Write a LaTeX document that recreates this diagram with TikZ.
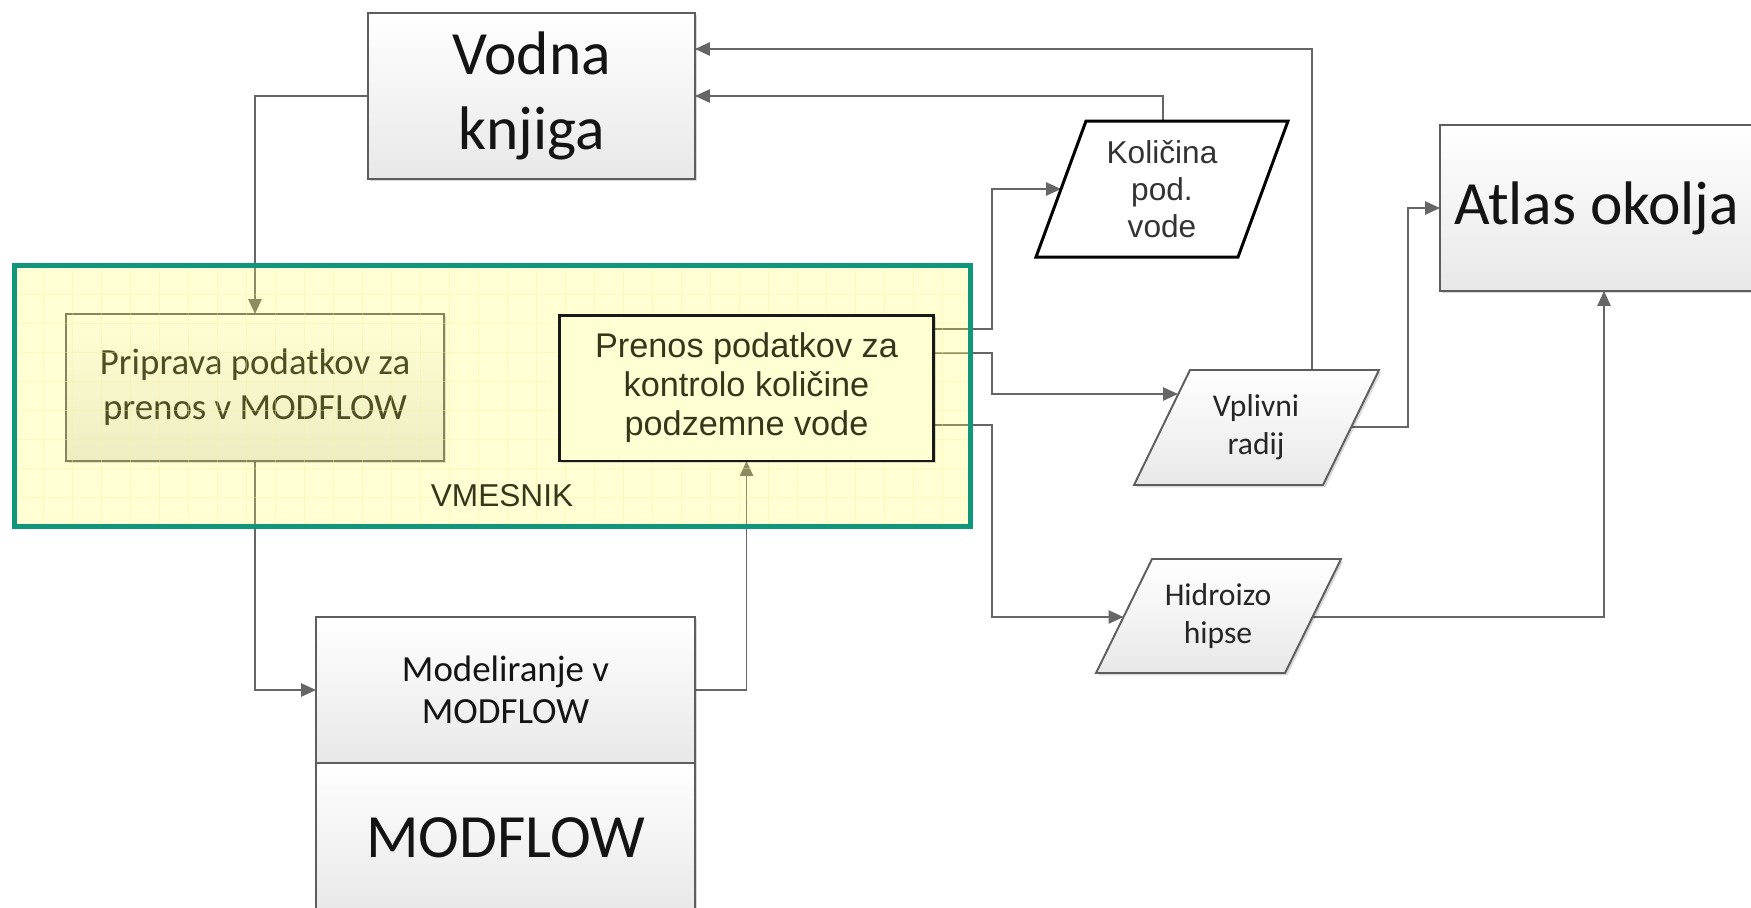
\documentclass[tikz,border=0pt]{standalone}
\usepackage{fontspec}
\setmainfont{Carlito}
\newfontfamily\arialf{Liberation Sans}
\usetikzlibrary{arrows.meta,shadows}
\definecolor{bordergray}{HTML}{5E5E5E}
\definecolor{linegray}{HTML}{666666}
\definecolor{vgreen}{HTML}{10967A}
\definecolor{olivetxt}{HTML}{36361A}
\definecolor{ovl}{HTML}{FFFF50}
\definecolor{gridy}{HTML}{F4F4A0}
\definecolor{prenosfill}{HTML}{FFFFD4}
\pgfdeclarelayer{bglayer}
\pgfdeclarelayer{connlayer}
\pgfdeclarelayer{overlayer}
\pgfdeclarelayer{frontlayer}
\pgfsetlayers{bglayer,connlayer,main,overlayer,frontlayer}
\begin{document}
\begin{tikzpicture}[x=0.02cm,y=-0.02cm,
  shadowed/.style={drop shadow={shadow xshift=1.3pt,shadow yshift=-1.3pt,fill=black,opacity=0.15}},
  graybox/.style={draw=bordergray,line width=1.1pt,top color=white,bottom color=black!9,
    shadowed,inner sep=0pt,outer sep=0pt,align=center,text=black!92},
  grayshape/.style={draw=bordergray,line width=1.1pt,top color=white,bottom color=black!9,shadowed},
  conn/.style={draw=linegray,line width=1.1pt,-{Triangle[length=8.5pt,width=7.5pt]},fill=none},
  plain/.style={inner sep=0pt,outer sep=0pt,align=center},
]
\useasboundingbox (0,0) rectangle (1751,907);
\begin{pgfonlayer}{bglayer}
\fill[white] (0,0) rectangle (1751,907);
\end{pgfonlayer}
\clip (0,0) rectangle (1751,907);

% ---------- boxes ----------
\node[graybox,minimum width=6.54cm,minimum height=3.32cm,
  font=\fontsize{35}{42.7}\selectfont] (vodna) at (531.5,96) {Vodna\\knjiga};
\node[graybox,minimum width=6.56cm,minimum height=3.32cm,text width=6.0cm,inner xsep=0.28cm,
  align=flush left,font=\fontsize{35}{42}\selectfont] (atlas) at (1604,208) {Atlas okolja};
\node[graybox,minimum width=7.58cm,minimum height=2.92cm,
  font=\fontsize{21}{24}\selectfont] (modtop) at (505.5,690) {Modeliranje v\\MODFLOW};
\node[graybox,minimum width=7.58cm,minimum height=3.0cm,
  font=\fontsize{35}{42}\selectfont] (modbot) at (505.5,838) {MODFLOW};
\node[graybox,minimum width=7.56cm,minimum height=2.94cm,
  font=\fontsize{21}{25.6}\selectfont] (prip) at (255,387.5) {Priprava podatkov za\\prenos v MODFLOW};

% parallelograms
\draw[black,line width=1.7pt,fill=white] (1086,121) -- (1288,121) -- (1238,257) -- (1036,257) -- cycle;
\node[plain,text=black!80,font=\arialf\fontsize{18}{21}\selectfont] (kol) at (1162,189) {Količina\\pod.\\vode};
\path[grayshape] (1190,370) -- (1379,370) -- (1323,485) -- (1134,485) -- cycle;
\node[plain,text=black!85,font=\fontsize{18}{21.6}\selectfont] (vpl) at (1256,427) {Vplivni\\radij};
\path[grayshape] (1152,559) -- (1341,559) -- (1285,673) -- (1096,673) -- cycle;
\node[plain,text=black!85,font=\fontsize{18}{21.6}\selectfont] (hid) at (1218,616) {Hidroizo\\hipse};

\coordinate (kolT) at (1163,121);
\coordinate (kolL) at (1061,189);
\coordinate (vplT) at (1312,370);
\coordinate (vplL) at (1178,394);
\coordinate (vplR) at (1351,427);
\coordinate (hidL) at (1123.5,617);
\coordinate (hidR) at (1312.5,617);
\coordinate (busA) at (992,0);
\coordinate (busB) at (1408,0);

% ---------- front: Prenos box, label, border ----------
\begin{pgfonlayer}{frontlayer}
\node[draw=black!90,line width=1.7pt,fill=prenosfill,shadowed,plain,
  minimum width=7.5cm,minimum height=2.92cm,text=olivetxt,
  font=\arialf\fontsize{19.5}{22.2}\selectfont] (prenos) at (746.5,388)
  {Prenos podatkov za\\kontrolo količine\\podzemne vode};
\node[plain,text=olivetxt,font=\arialf\fontsize{18}{21}\selectfont] (vmes) at (502,496) {VMESNIK};
\draw[vgreen,line width=2.85pt] (14.5,265.5) rectangle (970.5,526);
\end{pgfonlayer}

% ---------- overlay ----------
\begin{pgfonlayer}{overlayer}
\fill[ovl,fill opacity=0.25] (14.5,265.5) rectangle (970.5,526);
\begin{scope}
\clip (14.5,265.5) rectangle (970.5,526);
\foreach \gx in {43,72,...,970} \draw[gridy,line width=0.5pt,opacity=0.4] (\gx,265) -- (\gx,527);
\foreach \gy in {294,323,...,526} \draw[gridy,line width=0.5pt,opacity=0.4] (14,\gy) -- (971,\gy);
\end{scope}
\end{pgfonlayer}

% ---------- connectors ----------
\begin{pgfonlayer}{connlayer}
\draw[conn] (vplT) |- ([yshift=0.94cm]vodna.east);
\draw[conn] (kolT) |- (vodna.east);
\draw[conn] (vodna.west) -| (prip.north);
\draw[conn] (prip.south) |- (modtop.west);
\draw[conn] (modtop.east) -| (prenos.south);
\draw[conn] ([yshift=1.18cm]prenos.east) -- ([yshift=1.18cm]prenos.east -| busA) |- (kolL);
\draw[conn] ([yshift=0.7cm]prenos.east) -- ([yshift=0.7cm]prenos.east -| busA) |- (vplL);
\draw[conn] ([yshift=-0.74cm]prenos.east) -- ([yshift=-0.74cm]prenos.east -| busA) |- (hidL);
\draw[conn] (vplR) -- (vplR -| busB) |- (atlas.west);
\draw[conn] (hidR) -| (atlas.south);
\end{pgfonlayer}
\end{tikzpicture}
\end{document}
